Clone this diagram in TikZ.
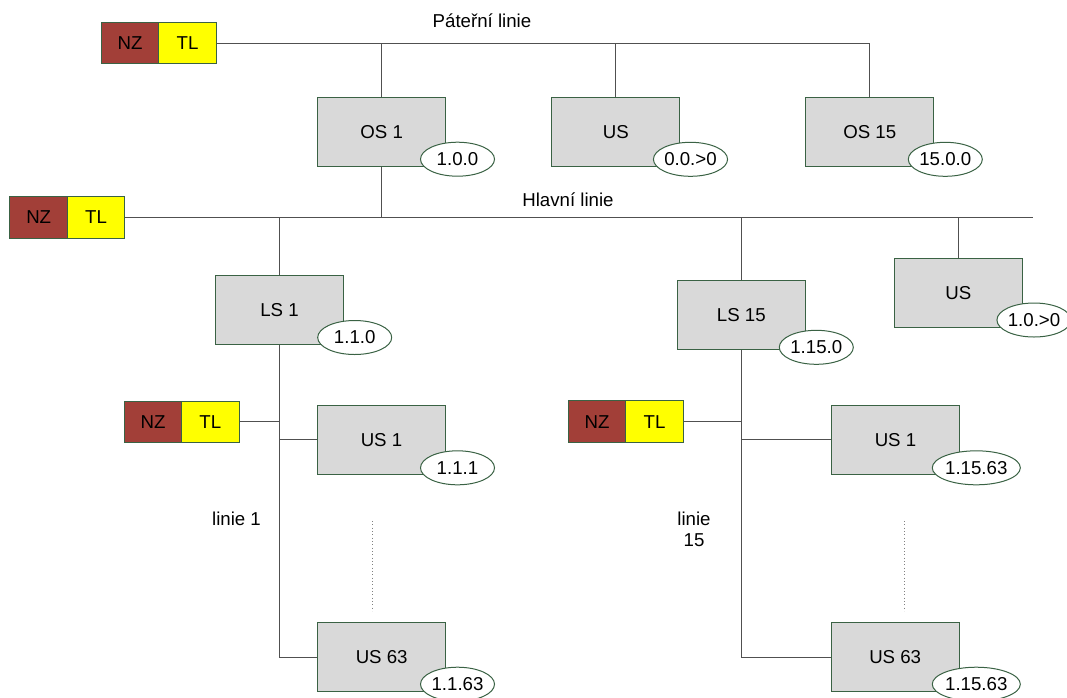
\documentclass[tikz,border=0pt]{standalone}
\usepackage{fontspec}
\setmainfont{Liberation Sans}
\usetikzlibrary{shapes.geometric}
\definecolor{nzcol}{RGB}{162,63,56}
\definecolor{tlcol}{RGB}{255,255,0}
\definecolor{edgecol}{RGB}{58,98,68}
\definecolor{boxfill}{RGB}{217,217,217}
\definecolor{linecol}{RGB}{80,80,80}
\begin{document}
\begin{tikzpicture}[x=0.75pt,y=-0.75pt,
  every node/.style={font=\fontsize{14pt}{16pt}\selectfont},
  devbox/.style={draw=edgecol,line width=0.75pt,fill=boxfill,minimum width=96pt,minimum height=51.75pt,inner sep=0pt},
  addr/.style={ellipse,draw=edgecol,line width=0.75pt,fill=white,minimum width=55.5pt,minimum height=25.5pt,inner sep=0pt},
  nzbox/.style={draw=edgecol,line width=0.75pt,fill=nzcol,minimum width=43.1pt,minimum height=31.1pt,inner sep=0pt},
  tlbox/.style={draw=edgecol,line width=0.75pt,fill=tlcol,minimum width=43.1pt,minimum height=31.1pt,inner sep=0pt},
  wire/.style={draw=linecol,line width=0.75pt},
  gap/.style={draw=gray,line width=0.5pt,dotted},
  lbl/.style={inner sep=0pt,align=center}]
\useasboundingbox (0,0) rectangle (1067,697);

% NZ / TL pairs
\node[nzbox] (nz1) at (130,43) {NZ};
\node[tlbox] (tl1) at (187.5,43) {TL};
\node[nzbox] (nz2) at (38.7,217.5) {NZ};
\node[tlbox] (tl2) at (96,217.5) {TL};
\node[nzbox] (nz3) at (153,421.8) {NZ};
\node[tlbox] (tl3) at (210.3,421.8) {TL};
\node[nzbox] (nz4) at (597,421.7) {NZ};
\node[tlbox] (tl4) at (654.5,421.7) {TL};

% devices
\node[devbox] (os1) at (381.7,132) {OS 1};
\node[devbox] (us0) at (615.8,132) {US};
\node[devbox] (os15) at (869.8,132) {OS 15};
\node[devbox] (ls1) at (279.5,310) {LS 1};
\node[devbox] (ls15) at (741.3,315.2) {LS 15};
\node[devbox] (usr) at (958.3,292.8) {US};
\node[devbox] (us1a) at (381.5,439.8) {US 1};
\node[devbox] (us63a) at (381.7,657) {US 63};
\node[devbox] (us1b) at (895.5,439.8) {US 1};
\node[devbox] (us63b) at (895.2,657) {US 63};

% addresses
\node[addr] (eos1) at (457.5,159.2) {1.0.0};
\node[addr,minimum width=54pt] (eus0) at (690.5,159.3) {0.0.>0};
\node[addr] (eos15) at (945.3,159.3) {15.0.0};
\node[addr] (els1) at (354.7,337.5) {1.1.0};
\node[addr] (els15) at (816.3,347.3) {1.15.0};
\node[addr] (eusr) at (1034,320) {1.0.>0};
\node[addr] (eus1a) at (457.5,467.8) {1.1.1};
\node[addr] (eus63a) at (457.5,684.2) {1.1.63};
\node[addr,minimum width=64.5pt] (eus1b) at (976.3,467.8) {1.15.63};
\node[addr,minimum width=64.5pt] (eus63b) at (976.3,684.2) {1.15.63};

% labels
\node[lbl] (pat) at (482,21) {Páteřní linie};
\node[lbl] (hl) at (568,200) {Hlavní linie};
\node[lbl] (lin1) at (236.5,519) {linie 1};
\node[lbl] (lin15) at (694,529) {linie\\15};

% backbone
\draw[wire] (tl1.east) -| (os15.north);
\draw[wire] (os1.north) -- (os1.north |- tl1.east);
\draw[wire] (us0.north) -- (us0.north |- tl1.east);

% main line
\coordinate (hlend) at (1033,217.5);
\draw[wire] (tl2.east) -- (hlend);
\draw[wire] (os1.south) -- (os1.south |- hlend);
\draw[wire] (ls1.north) -- (ls1.north |- hlend);
\draw[wire] (ls15.north) -- (ls15.north |- hlend);
\draw[wire] (usr.north) -- (usr.north |- hlend);

% line 1
\draw[wire] (ls1.south) |- (us63a.west);
\draw[wire] (us1a.west) -- (us1a.west -| ls1.south);
\draw[wire] (tl3.east) -- (tl3.east -| ls1.south);

% line 15
\draw[wire] (ls15.south) |- (us63b.west);
\draw[wire] (us1b.west) -- (us1b.west -| ls15.south);
\draw[wire] (tl4.east) -- (tl4.east -| ls15.south);

% dotted gaps
\coordinate (d1a) at (372.3,521);
\coordinate (d1b) at (372.3,611);
\coordinate (d2a) at (904.3,521);
\coordinate (d2b) at (904.3,611);
\draw[gap] (d1a) -- (d1b);
\draw[gap] (d2a) -- (d2b);
\end{tikzpicture}
\end{document}
